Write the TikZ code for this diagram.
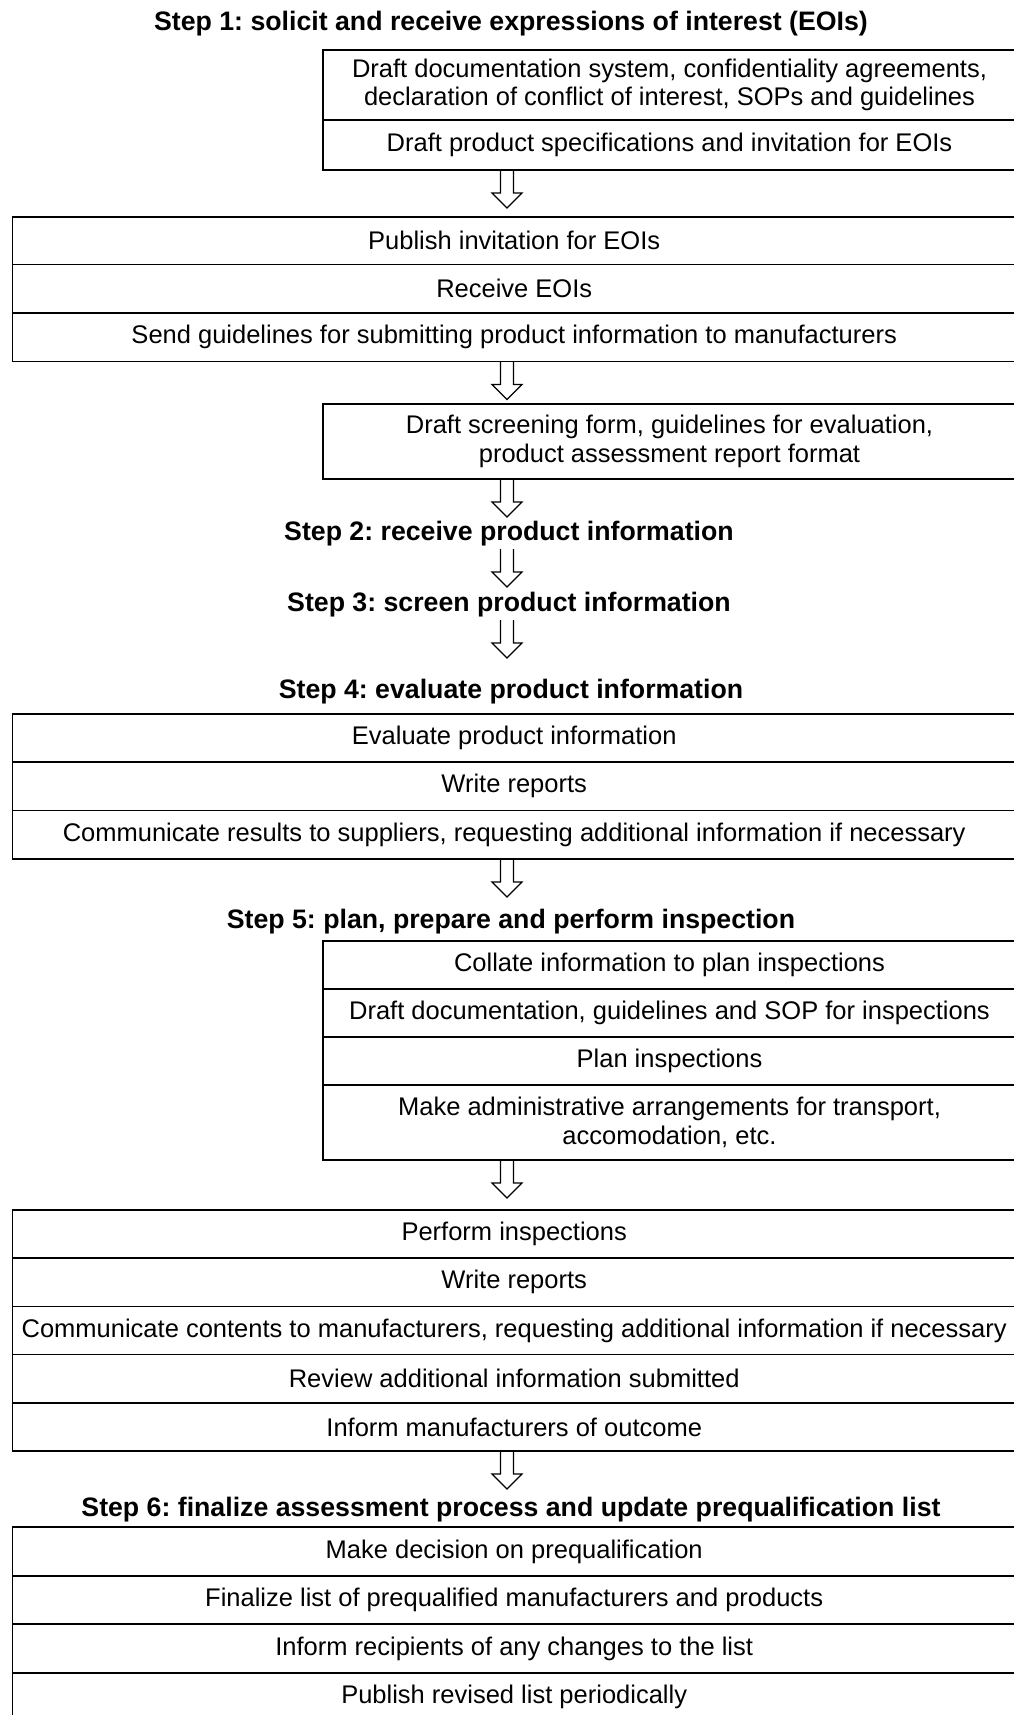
\documentclass[tikz,border=0pt]{standalone}
\usepackage{fontspec}
\setmainfont{Liberation Sans}
\frenchspacing
\usetikzlibrary{positioning, calc}
\tikzset{
  every picture/.style={line width=1.5pt},
  row/.style={draw, anchor=north west, inner sep=0pt, outer sep=0pt, align=center, minimum height=#1, font=\fontsize{25.5}{28.5}\selectfont},
  row/.default=48.5,
  wide/.style={row=#1, minimum width=1003pt},
  wide/.default=48.5,
  narrow/.style={row=#1, minimum width=693pt},
  narrow/.default=48.5,
  steptitle/.style={font=\fontsize{26.7}{30}\selectfont\bfseries, anchor=base, inner sep=0pt, outer sep=0pt, text depth=9pt},
  flow/.style={line width=1.2pt, line join=miter},
}
\newcommand\flowarrow[1]{\draw[flow] (ax |- #1.south) ++(-6.5,0) -- ++(0,-23) -- ++(-8.5,0) -- ++(15,-15) -- ++(15,15) -- ++(-8.5,0) -- ++(0,23);}

\begin{document}
\begin{tikzpicture}[x=1pt, y=1pt]
  \useasboundingbox (0,0) rectangle (1014,-1715);
  \clip (0,0) rectangle (1014,-1715);
  \coordinate (ax) at (507,0);
  % step 1: expressions of interest
  \node[steptitle] (t1) at (511,-31) {Step 1: solicit and receive expressions of interest (EOIs)};
  \node[narrow=70] (s1a) at (323,-50) {Draft documentation system, confidentiality agreements,\\declaration of conflict of interest, SOPs and guidelines};
  \node[narrow=50, below=0pt of s1a] (s1b) {Draft product specifications and invitation for EOIs};
  \node[wide=47.5] (s1c) at (12.7,-217) {Publish invitation for EOIs};
  \node[wide, below=0pt of s1c] (s1d) {Receive EOIs};
  \node[wide=48.5, below=0pt of s1d] (s1e) {Send guidelines for submitting product information to manufacturers};
  \node[narrow=75] (s1f) at (323,-404) {Draft screening form, guidelines for evaluation,\\product assessment report format};
  \flowarrow{s1b}
  \flowarrow{s1e}
  \flowarrow{s1f}
  % steps 2 and 3
  \node[steptitle] (t2) at (509,-540) {Step 2: receive product information};
  \node[steptitle] (t3) at (509,-611) {Step 3: screen product information};
  \flowarrow{t2}
  \flowarrow{t3}
  % step 4: evaluation
  \node[steptitle] (t4) at (511,-698) {Step 4: evaluate product information};
  \node[wide=48] (s4a) at (12.7,-714) {Evaluate product information};
  \node[wide=48.5, below=0pt of s4a] (s4b) {Write reports};
  \node[wide=48.5, below=0pt of s4b] (s4c) {Communicate results to suppliers, requesting additional information if necessary};
  \flowarrow{s4c}
  % step 5: inspection
  \node[steptitle] (t5) at (511,-928) {Step 5: plan, prepare and perform inspection};
  \node[narrow=48] (s5a) at (323,-941) {Collate information to plan inspections};
  \node[narrow=48, below=0pt of s5a] (s5b) {Draft documentation, guidelines and SOP for inspections};
  \node[narrow=48, below=0pt of s5b] (s5c) {Plan inspections};
  \node[narrow=75, below=0pt of s5c] (s5d) {Make administrative arrangements for transport,\\accomodation, etc.};
  \flowarrow{s5d}
  \node[wide=48.2] (s5e) at (12.7,-1210) {Perform inspections};
  \node[wide=48.2, below=0pt of s5e] (s5f) {Write reports};
  \node[wide=48.2, below=0pt of s5f] (s5g) {Communicate contents to manufacturers, requesting additional information if necessary};
  \node[wide=48.2, below=0pt of s5g] (s5h) {Review additional information submitted};
  \node[wide=48.2, below=0pt of s5h] (s5i) {Inform manufacturers of outcome};
  \flowarrow{s5i}
  % step 6: prequalification list
  \node[steptitle] (t6) at (511,-1516) {Step 6: finalize assessment process and update prequalification list};
  \node[wide=49] (s6a) at (12.7,-1527) {Make decision on prequalification};
  \node[wide=48, below=0pt of s6a] (s6b) {Finalize list of prequalified manufacturers and products};
  \node[wide=49, below=0pt of s6b] (s6c) {Inform recipients of any changes to the list};
  \node[wide=48, below=0pt of s6c] (s6d) {Publish revised list periodically};
\end{tikzpicture}
\end{document}
